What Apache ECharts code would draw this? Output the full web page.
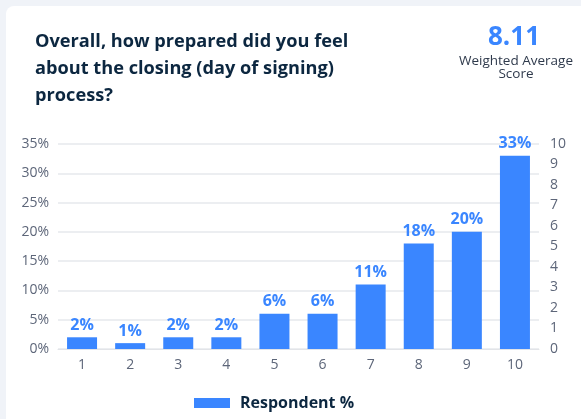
<!DOCTYPE html>
<html>
<head>
<meta charset="utf-8">
<script src="https://cdn.jsdelivr.net/npm/echarts@6/dist/echarts.min.js"></script>
<style>
  html, body { margin: 0; padding: 0; background: #f0f3f8; }
  #chart { width: 581px; height: 419px; }
</style>
</head>
<body>
<div id="chart"></div>
<script>
// Survey answers on a 1–10 scale and the share of respondents per answer
const categories = ['1', '2', '3', '4', '5', '6', '7', '8', '9', '10'];
const respondentPct = [2, 1, 2, 2, 6, 6, 11, 18, 20, 33];
const weightedScore = '8.11';
const titleText = 'Overall, how prepared did you feel\nabout the closing (day of signing)\nprocess?';

const FONT = '"Open Sans", "Noto Sans", sans-serif';
const BLUE = '#3a86ff';
const NAVY = '#0c2740';
const GREY = '#5d6679';

const chart = echarts.init(document.getElementById('chart'));
chart.setOption({
  backgroundColor: '#f0f3f8',
  textStyle: { fontFamily: FONT },
  graphic: [
    {
      type: 'rect', z: -10, silent: true,
      shape: { x: 6, y: 6, width: 620, height: 440, r: 8 },
      style: { fill: '#ffffff' }
    },
    {
      type: 'text', left: 35, top: 28,
      style: {
        text: titleText, fill: NAVY, font: 'bold 18.2px ' + FONT,
        lineHeight: 27
      }
    },
    {
      type: 'text', x: 514, y: 25,
      style: {
        text: weightedScore, fill: BLUE, font: 'bold 26px ' + FONT,
        textAlign: 'center'
      }
    },
    {
      type: 'text', x: 516, y: 55,
      style: {
        text: 'Weighted Average\nScore', fill: '#2f3a4c', font: '13.5px ' + FONT,
        textAlign: 'center', lineHeight: 12.5
      }
    }
  ],
  grid: { left: 58, right: 42, top: 144, height: 205 },
  legend: {
    data: ['Respondent %'],
    left: 189, top: 390,
    itemWidth: 36, itemHeight: 10,
    icon: 'rect',
    textStyle: {
      color: NAVY, fontWeight: 'bold', fontSize: 16, fontFamily: FONT,
      padding: [0, 0, 0, 5]
    }
  },
  xAxis: {
    type: 'category',
    data: categories,
    axisLine: { lineStyle: { color: '#e2e4e8' } },
    axisTick: { show: false },
    axisLabel: { color: GREY, fontSize: 14, margin: 9, fontFamily: FONT }
  },
  yAxis: [
    {
      type: 'value', min: 0, max: 35, interval: 5,
      axisLabel: { formatter: '{value}%', color: GREY, fontSize: 14, margin: 9, fontFamily: FONT },
      splitLine: { lineStyle: { color: '#e6e8ec', width: 1.5 } },
      axisLine: { show: false }, axisTick: { show: false }
    },
    {
      type: 'value', min: 0, max: 10, interval: 1, position: 'right',
      axisLabel: { color: GREY, fontSize: 14, margin: 11, fontFamily: FONT },
      splitLine: { show: false },
      axisLine: { show: false }, axisTick: { show: false }
    }
  ],
  series: [
    {
      name: 'Respondent %',
      type: 'bar',
      data: respondentPct,
      barWidth: 30,
      itemStyle: { color: BLUE },
      label: {
        show: true, position: 'top', distance: 4,
        formatter: '{c}%', color: BLUE, fontWeight: 'bold', fontSize: 16,
        fontFamily: FONT
      }
    }
  ]
});
</script>
</body>
</html>
